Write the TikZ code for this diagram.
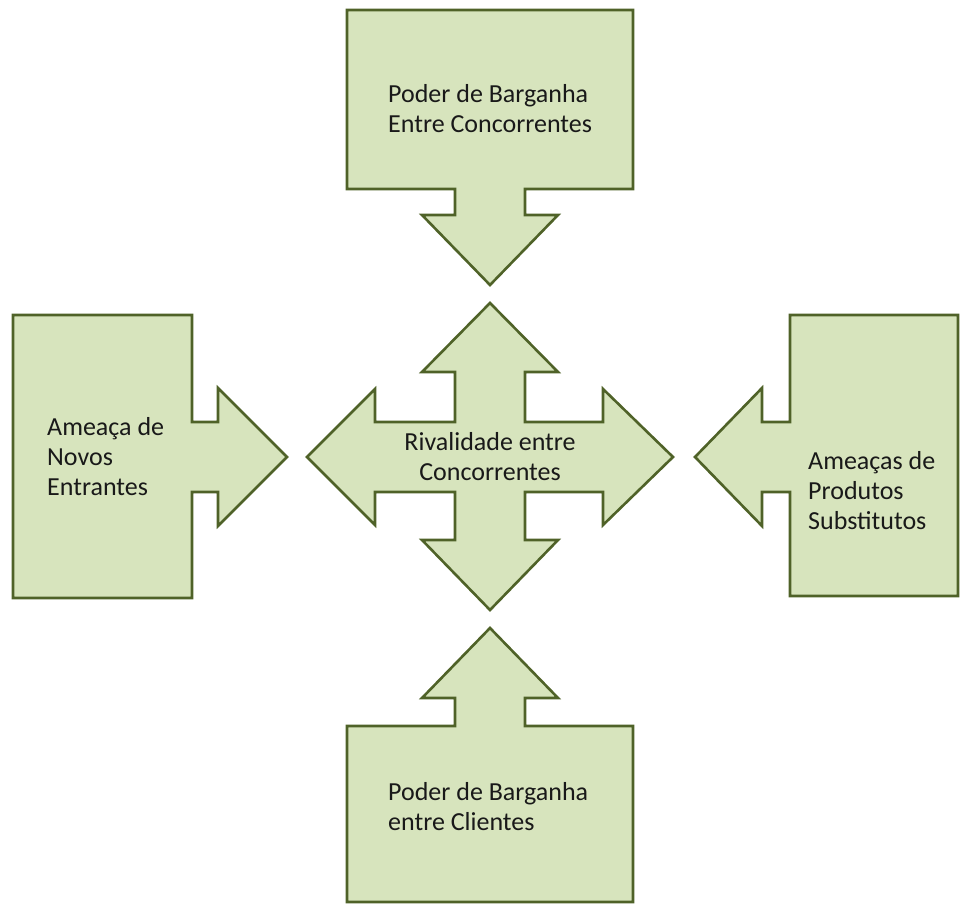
\documentclass[tikz,border=0pt]{standalone}
\usepackage{fontspec}
\setmainfont{Carlito}
\usepackage{tikz}
\usetikzlibrary{positioning}
\definecolor{forcefill}{RGB}{215,228,189}
\definecolor{forceline}{RGB}{79,98,40}

\begin{document}
\begin{tikzpicture}[
  x=1pt, y=-1pt,
  blk/.style={draw=forceline, fill=forcefill, line width=2.6pt, line join=miter},
  txt/.style={inner sep=0pt, font=\fontsize{26}{30}\selectfont, text=black!90,
              align=left, anchor=north west}
]
  \useasboundingbox (0,0) rectangle (960,904);
  % the four callouts
  \draw[blk] (347,10) -- (633,10) -- (633,189) -- (525,189) -- (525,215)
    -- (558,215) -- (490,285) -- (422,215) -- (455,215) -- (455,189)
    -- (347,189) -- cycle;
  \draw[blk] (347,902) -- (347,726) -- (455,726) -- (455,698) -- (422,698)
    -- (490,628) -- (558,698) -- (525,698) -- (525,726) -- (633,726)
    -- (633,902) -- cycle;
  \draw[blk] (13,315) -- (192,315) -- (192,422) -- (218,422) -- (218,388)
    -- (287,457) -- (218,526) -- (218,492) -- (192,492) -- (192,598)
    -- (13,598) -- cycle;
  \draw[blk] (958,315) -- (790,315) -- (790,422) -- (762,422) -- (762,388)
    -- (695,457) -- (762,526) -- (762,492) -- (790,492) -- (790,596)
    -- (958,596) -- cycle;
  % the cross in the middle
  \draw[blk] (455,422) -- (455,372) -- (422,372) -- (490,303) -- (558,372)
    -- (525,372) -- (525,422) -- (603,422) -- (603,389) -- (673,457)
    -- (603,525) -- (603,492) -- (525,492) -- (525,540) -- (558,540)
    -- (490,610) -- (422,540) -- (455,540) -- (455,492) -- (375,492)
    -- (375,525) -- (307,457) -- (375,389) -- (375,422) -- cycle;

  \node[txt] (fornec) at (388,84) {Poder de Barganha\\Entre Concorrentes};
  \node[txt] (entrantes) at (47,417) {Ameaça de\\Novos\\Entrantes};
  \node[txt] (substitutos) at (808,451) {Ameaças de\\Produtos\\Substitutos};
  \node[txt, align=center, anchor=north] (rivalidade) at (490,432)
    {Rivalidade entre\\Concorrentes};
  \node[txt] (clientes) at (388,782) {Poder de Barganha\\entre Clientes};
\end{tikzpicture}
\end{document}
